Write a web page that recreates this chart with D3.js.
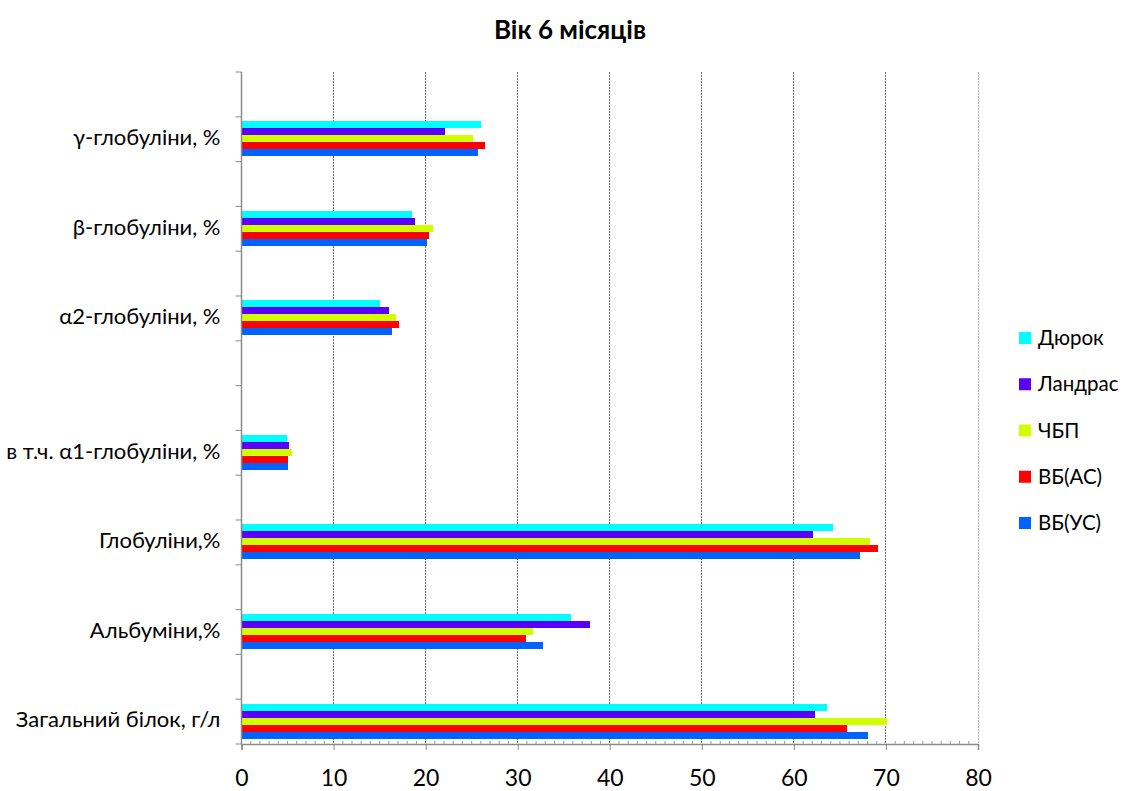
<!DOCTYPE html>
<html lang="uk">
<head>
<meta charset="utf-8">
<title>Вік 6 місяців</title>
<script src="https://cdn.jsdelivr.net/npm/d3@7"></script>
<style>
  html, body { margin: 0; padding: 0; background: #fff; }
  svg { display: block; font-family: Lato, "Noto Sans", sans-serif; }
</style>
</head>
<body>
<svg id="chart" width="1126" height="791"></svg>
<script>
// Category rows, bottom to top; empty strings are spacer rows in the sheet
const categories = [
  "Загальний білок, г/л", "", "Альбуміни,%", "", "Глобуліни,%", "",
  "в т.ч. α1-глобуліни, %", "", "", "α2-глобуліни, %", "",
  "β-глобуліни, %", "", "γ-глобуліни, %", ""
];

// Breed groups (series), in sheet order
const seriesNames = ["ВБ(УС)", "ВБ(АС)", "ЧБП", "Ландрас", "Дюрок"];
const seriesColors = ["#0063ff", "#ff0000", "#d2ff00", "#5a00f8", "#00ffff"];

const valuesVBUS     = [68.1, null, 32.8, null, 67.2, null, 5.0, null, null, 16.4, null, 20.2, null, 25.7, null];
const valuesVBAS     = [65.8, null, 30.9, null, 69.1, null, 5.1, null, null, 17.1, null, 20.4, null, 26.5, null];
const valuesCHBP     = [70.1, null, 31.7, null, 68.3, null, 5.5, null, null, 16.8, null, 20.8, null, 25.2, null];
const valuesLandrace = [62.3, null, 37.9, null, 62.1, null, 5.2, null, null, 16.0, null, 18.9, null, 22.1, null];
const valuesDuroc    = [63.6, null, 35.8, null, 64.2, null, 4.9, null, null, 15.0, null, 18.5, null, 26.0, null];

const seriesValues = [valuesVBUS, valuesVBAS, valuesCHBP, valuesLandrace, valuesDuroc];

const xTicks = [0, 10, 20, 30, 40, 50, 60, 70, 80];
const titleText = "Вік 6 місяців";

// Layout
const plot = { left: 241.5, right: 978, top: 72, bottom: 744 };
const svg = d3.select("#chart");

const x = d3.scaleLinear().domain([0, 80]).range([plot.left, plot.right]);

// Row index 0 sits at the bottom
const y = d3.scaleBand()
  .domain(d3.range(categories.length))
  .range([plot.bottom, plot.top])
  .paddingInner(0)
  .paddingOuter(0);

// Series inside a row: first series at the bottom
const ySeries = d3.scaleBand()
  .domain(d3.range(seriesNames.length))
  .range([y.bandwidth() * 0.88, y.bandwidth() * 0.1])
  .paddingInner(0);

// Vertical gridlines
svg.append("g")
  .selectAll("line")
  .data(xTicks.filter(t => t > 0))
  .join("line")
  .attr("x1", d => x(d)).attr("x2", d => x(d))
  .attr("y1", plot.top).attr("y2", plot.bottom)
  .attr("stroke", d => d === 80 ? "#b0b0b0" : "#6e6e6e")
  .attr("stroke-width", 1)
  .attr("stroke-dasharray", "2,1")
  .attr("shape-rendering", "crispEdges");

// Bars
const rows = svg.append("g").selectAll("g")
  .data(categories.map((c, i) => i))
  .join("g")
  .attr("transform", i => `translate(0,${y(i)})`);

rows.selectAll("rect")
  .data(i => seriesValues.map((vals, s) => ({ s, v: vals[i] })).filter(d => d.v != null))
  .join("rect")
  .attr("x", x(0))
  .attr("y", d => ySeries(d.s))
  .attr("width", d => x(d.v) - x(0))
  .attr("height", ySeries.bandwidth())
  .attr("fill", d => seriesColors[d.s])
  .attr("shape-rendering", "crispEdges");

// X axis
const xAxis = d3.axisBottom(x)
  .tickValues(xTicks)
  .tickSize(6)
  .tickPadding(20)
  .tickFormat(d3.format("d"));

const gx = svg.append("g")
  .attr("transform", `translate(0,${plot.bottom})`)
  .call(xAxis);
gx.select(".domain").attr("stroke", "#8a8a8a").attr("stroke-width", 1.5);
gx.selectAll(".tick line").attr("stroke", "#8a8a8a");
gx.selectAll(".tick text")
  .attr("fill", "#000")
  .attr("font-size", 23)
  .attr("font-family", "Lato, 'Noto Sans', sans-serif");

// Minor ticks on the x axis, one per unit
svg.append("g")
  .selectAll("line")
  .data(d3.range(1, 80).filter(v => v % 10 !== 0))
  .join("line")
  .attr("x1", d => x(d)).attr("x2", d => x(d))
  .attr("y1", plot.bottom - 3).attr("y2", plot.bottom)
  .attr("stroke", "#9a9a9a")
  .attr("stroke-width", 1);

// Y axis: ticks on row boundaries, labels centred in rows
const gy = svg.append("g").attr("transform", `translate(${plot.left},0)`);
gy.append("line")
  .attr("x1", 0).attr("x2", 0)
  .attr("y1", plot.top).attr("y2", plot.bottom)
  .attr("stroke", "#8a8a8a").attr("stroke-width", 1.5);

gy.selectAll("line.tick")
  .data(d3.range(categories.length + 1))
  .join("line")
  .attr("class", "tick")
  .attr("x1", -6).attr("x2", 0)
  .attr("y1", i => i < categories.length ? y(i) + y.bandwidth() : plot.top)
  .attr("y2", i => i < categories.length ? y(i) + y.bandwidth() : plot.top)
  .attr("stroke", "#8a8a8a");

gy.selectAll("text")
  .data(categories.map((c, i) => ({ c, i })).filter(d => d.c !== ""))
  .join("text")
  .attr("x", -21)
  .attr("y", d => y(d.i) + y.bandwidth() / 2 - 2)
  .attr("dy", "0.35em")
  .attr("text-anchor", "end")
  .attr("font-size", 22)
  .attr("fill", "#000")
  .text(d => d.c);

// Title
svg.append("text")
  .attr("x", 570).attr("y", 30)
  .attr("dy", "0.35em")
  .attr("text-anchor", "middle")
  .attr("font-size", 26)
  .attr("font-weight", "bold")
  .attr("fill", "#000")
  .text(titleText);

// Legend: top entry is the last series
const legendOrder = d3.range(seriesNames.length).reverse();
const legendY = d3.scalePoint()
  .domain(legendOrder)
  .range([338, 523]);

const legend = svg.append("g").selectAll("g")
  .data(legendOrder)
  .join("g")
  .attr("transform", s => `translate(1019,${legendY(s)})`);

legend.append("rect")
  .attr("x", 0).attr("y", -6)
  .attr("width", 12).attr("height", 12)
  .attr("fill", s => seriesColors[s]);

legend.append("text")
  .attr("x", 19).attr("y", 0)
  .attr("dy", "0.35em")
  .attr("font-size", 20.5)
  .attr("fill", "#000")
  .text(s => seriesNames[s]);
</script>
</body>
</html>
